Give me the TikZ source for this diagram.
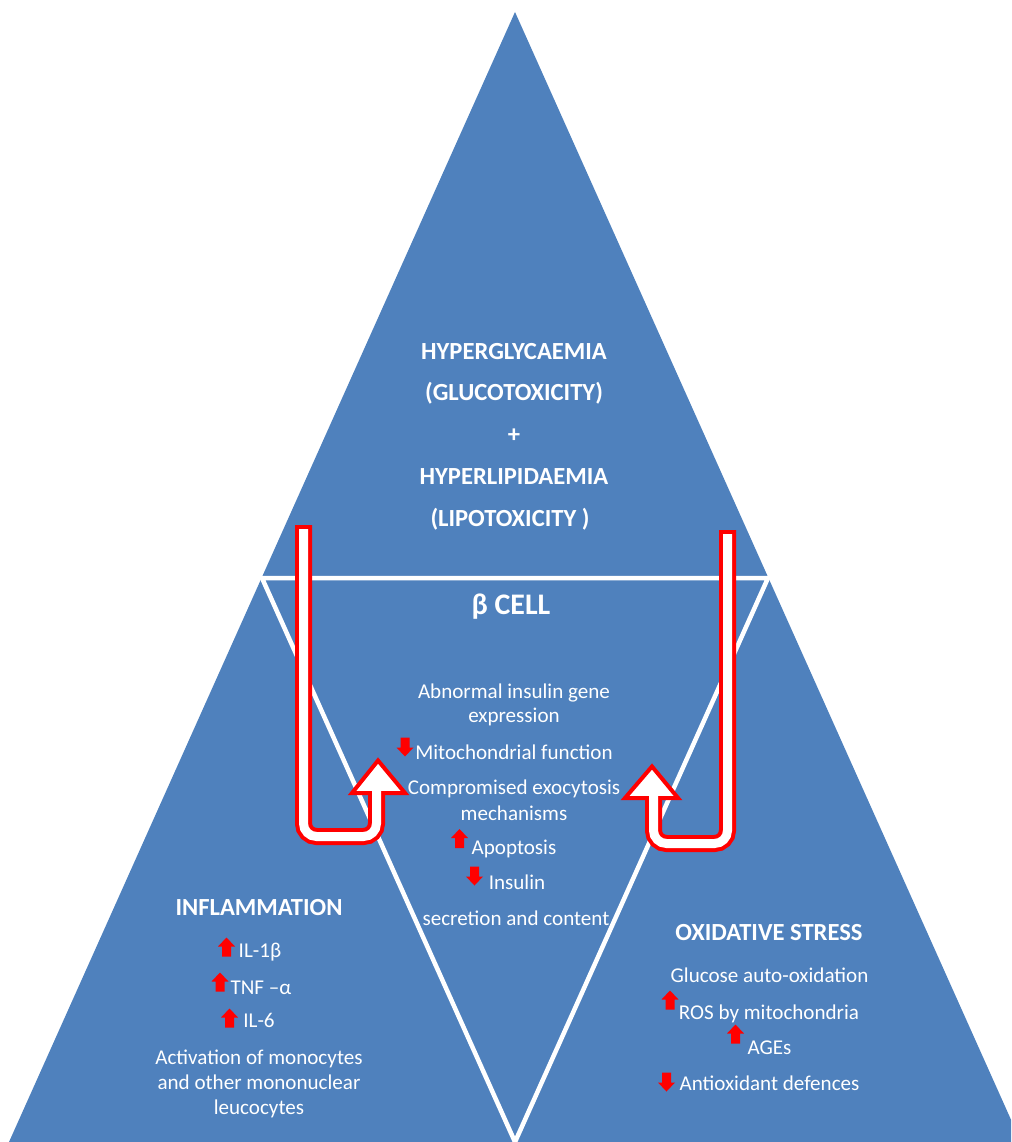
\documentclass[tikz,border=0pt]{standalone}
\usepackage{fontspec}
\setmainfont{Carlito}
\definecolor{cellblue}{HTML}{4F81BD}

\begin{document}
\begin{tikzpicture}[x=0.02cm, y=-0.02cm,
    txt/.style={text=white, inner sep=0pt, text height=1.0em, text depth=0.2em,
        font=\fontsize{12}{14}\selectfont},
    head/.style={txt, font=\fontsize{14}{16}\selectfont\bfseries},
    divider/.style={white, line width=0.09cm},
    loopred/.style={red, line width=0.34cm, line cap=rect, rounded corners=0.26cm},
    loopwhite/.style={white, line width=0.18cm, line cap=rect, rounded corners=0.26cm},
    loophead/.style={fill=white, draw=red, line width=0.08cm},
    upmark/.pic={\fill[red] (0,-9.5) -- (8.5,-0.5) -- (4.5,-0.5) -- (4.5,9.5) -- (-4.5,9.5) -- (-4.5,-0.5) -- (-8.5,-0.5) -- cycle;},
    downmark/.pic={\fill[red] (0,9.5) -- (8.5,0.5) -- (4.5,0.5) -- (4.5,-9.5) -- (-4.5,-9.5) -- (-4.5,0.5) -- (-8.5,0.5) -- cycle;}]

    \useasboundingbox (0,0) rectangle (1011,1142);
    \clip (0,0) rectangle (1011,1142);

    % Pyramid and its four parts
    \coordinate (apex) at (515,12);
    \coordinate (midl) at (262,578);
    \coordinate (midr) at (768,578);
    \coordinate (botm) at (515,1142);
    \coordinate (botl) at (9,1142);
    \coordinate (botr) at (1021,1142);
    \fill[cellblue] (apex) -- (botl) -- (botr) -- cycle;
    \draw[divider] (midl) -- (midr) -- (botm) -- cycle;

    % Top part
    \node[head] (hg1) at (514,352) {HYPERGLYCAEMIA};
    \node[head] (hg2) at (514,393) {(GLUCOTOXICITY)};
    \node[head] (plus) at (514,435) {+};
    \node[head] (hl1) at (514,477) {HYPERLIPIDAEMIA};
    \node[head] (hl2) at (510,519) {(LIPOTOXICITY )};

    % Beta cell
    \node[head, font=\fontsize{17}{19}\selectfont\bfseries] (cell) at (511,607) {β CELL};
    \node[txt] (c1) at (514,691) {Abnormal insulin gene};
    \node[txt] (c2) at (514,715) {expression};
    \node[txt] (c3) at (514,752) {Mitochondrial function};
    \node[txt] (c4) at (514,787) {Compromised exocytosis};
    \node[txt] (c5) at (514,813) {mechanisms};
    \node[txt] (c6) at (514,847) {Apoptosis};
    \node[txt] (c7) at (517,882) {Insulin};
    \node[txt] (c8) at (516,918) {secretion and content};
    \pic (m3) at (405,747) {downmark};
    \pic (m6) at (459.5,838.5) {upmark};
    \pic (m7) at (474.5,876) {downmark};

    % Inflammation
    \node[head] (infl) at (259,908) {INFLAMMATION};
    \node[txt] (i1) at (260,950) {IL-1β};
    \node[txt] (i2) at (261,987) {TNF –α};
    \node[txt] (i3) at (259,1020) {IL-6};
    \node[txt] (i4) at (259,1057) {Activation of monocytes};
    \node[txt] (i5) at (259,1082) {and other  mononuclear};
    \node[txt] (i6) at (259,1107) {leucocytes};
    \pic (mi1) at (226.5,947) {upmark};
    \pic (mi2) at (220,982) {upmark};
    \pic (mi3) at (229.5,1018) {upmark};

    % Oxidative stress
    \node[head] (oxid) at (769,933) {OXIDATIVE STRESS};
    \node[txt] (o1) at (769.5,975) {Glucose auto-oxidation};
    \node[txt] (o2) at (769,1012) {ROS by mitochondria};
    \node[txt] (o3) at (769.5,1047) {AGEs};
    \node[txt] (o4) at (769.5,1083) {Antioxidant defences};
    \pic (mo2) at (670,1000) {upmark};
    \pic (mo3) at (735.5,1034) {upmark};
    \pic (mo4) at (666.5,1082) {downmark};

    % Feedback loops into the cell
    \coordinate (ltop) at (303.5,533.5);
    \coordinate (lend) at (376.5,793);
    \draw[loopred] (ltop) -- (303.5,836.5) -- (376.5,836.5) -- (lend);
    \draw[loophead] (352,793) -- (378,760.5) -- (405,793) -- cycle;
    \draw[loopwhite] (ltop) -- (303.5,836.5) -- (376.5,836.5) -- (lend);

    \coordinate (rtop) at (727.5,538.5);
    \coordinate (rend) at (653.5,798);
    \draw[loopred] (rtop) -- (727.5,843.5) -- (653.5,843.5) -- (rend);
    \draw[loophead] (625,798) -- (652,766.5) -- (678,798) -- cycle;
    \draw[loopwhite] (rtop) -- (727.5,843.5) -- (653.5,843.5) -- (rend);
\end{tikzpicture}
\end{document}
